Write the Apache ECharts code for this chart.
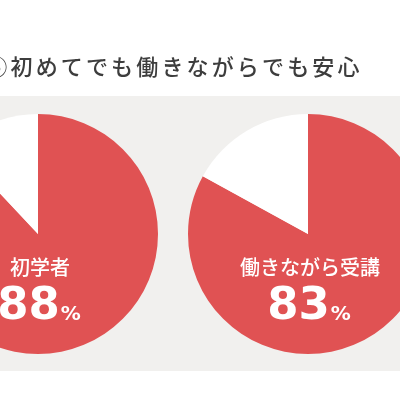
<!DOCTYPE html>
<html><head><meta charset="utf-8">
<script src="https://cdn.jsdelivr.net/npm/echarts@6/dist/echarts.min.js"></script>
<style>html,body{margin:0;padding:0;background:#fff}#c{width:400px;height:400px}</style>
</head><body><div id="c"></div>
<script>
const titleText = '⑥初めてでも働きながらでも安心';
const categories = ['初学者', '働きながら受講'];
const yesValues = [88, 83];
const restValues = [12, 17];
const pieCenters = [[38, 234], [308, 234]];

const chart = echarts.init(document.getElementById('c'), null, {renderer: 'canvas'});
const RED = '#e05253';
const series = categories.map((name, i) => ({
  type: 'pie',
  center: pieCenters[i],
  radius: 120,
  startAngle: 90,
  clockwise: true,
  silent: true,
  label: {show: false},
  labelLine: {show: false},
  itemStyle: {borderWidth: 0},
  data: [
    {name: name, value: yesValues[i], itemStyle: {color: RED}},
    {name: 'その他', value: restValues[i], itemStyle: {color: '#ffffff'}}
  ]
}));

const graphics = [
  {type: 'rect', z: 0, shape: {x: 0, y: 96, width: 400, height: 275}, style: {fill: '#f1f0ee'}}
];
// title, letter-spaced
Array.from(titleText).forEach((ch, k) => {
  graphics.push({type: 'text', z: 100, x: 21.5 + 25.15 * (k - 1), y: 67,
    style: {text: ch, fill: '#3d3d3d', font: '500 22px "Noto Sans CJK JP"', textAlign: 'center', textVerticalAlign: 'middle'}});
});
categories.forEach((name, i) => {
  graphics.push({type: 'text', z: 100, x: pieCenters[i][0] + 2, y: 267,
    style: {text: name, fill: '#ffffff', font: '500 20px "Noto Sans CJK JP"', textAlign: 'center', textVerticalAlign: 'middle'}});
  graphics.push({type: 'text', z: 100, x: pieCenters[i][0] + 1, y: 307,
    style: {text: '{n|' + yesValues[i] + '}{p|%}', textAlign: 'center', textVerticalAlign: 'middle',
      rich: {
        n: {fontSize: 45, fontWeight: 'bold', fontFamily: '"DejaVu Sans"', fill: '#fff', color: '#fff', lineHeight: 46, verticalAlign: 'bottom'},
        p: {fontSize: 20, fontWeight: 'bold', fontFamily: '"DejaVu Sans"', fill: '#fff', color: '#fff', lineHeight: 20, verticalAlign: 'bottom', padding: [0, 0, 5, 1]}
      }}});
});

chart.setOption({
  animation: false,
  backgroundColor: '#ffffff',
  series: series,
  graphic: graphics
});
</script></body></html>
